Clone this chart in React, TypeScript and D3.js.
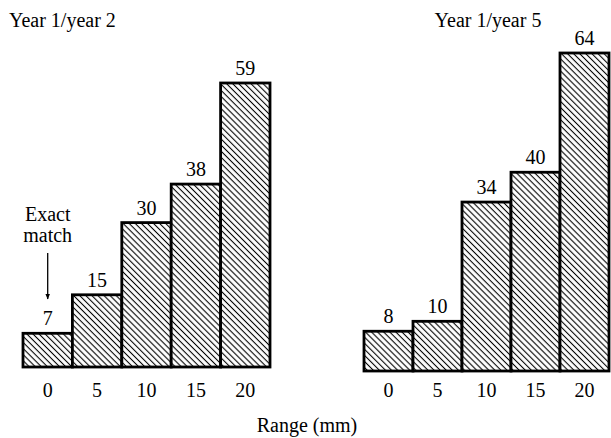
import * as d3 from 'd3';

// data
const ranges = ['0', '5', '10', '15', '20'];
const year2Counts = [7, 15, 30, 38, 59];
const year5Counts = [8, 10, 34, 40, 64];
const panelTitles = ['Year 1/year 2', 'Year 1/year 5'];
const xAxisTitle = 'Range (mm)';

const W = 611;
const H = 438;
const textStyle = { fontFamily: "'Liberation Serif', 'DejaVu Serif', serif", fontSize: '20px' };

interface PanelProps {
  counts: number[];
  title: string;
  x0: number;
  x1: number;
  base: number;
  top: number;
  titleX: number;
  titleAnchor: 'start' | 'middle';
  note?: boolean;
}

const Panel = ({ counts, title, x0, x1, base, top, titleX, titleAnchor, note }: PanelProps) => {
  const xScale = d3.scaleBand<string>().domain(ranges).range([x0, x1]).padding(0);
  const yScale = d3
    .scaleLinear()
    .domain([0, d3.max(counts) ?? 1])
    .range([base, top]);

  const bw = xScale.bandwidth();
  const firstX = xScale(ranges[0])! + bw / 2;

  return (
    <g>
      <text x={titleX} y={27} textAnchor={titleAnchor} style={textStyle}>
        {title}
      </text>

      {/* bars */}
      {counts.map((c, i) => (
        <rect
          key={ranges[i]}
          x={xScale(ranges[i])}
          y={yScale(c)}
          width={bw}
          height={base - yScale(c)}
          fill="url(#hatch)"
          stroke="#000"
          strokeWidth={2.8}
        />
      ))}

      {/* value labels */}
      {counts.map((c, i) => (
        <text
          key={'v' + ranges[i]}
          x={xScale(ranges[i])! + bw / 2}
          y={yScale(c) - 8}
          textAnchor="middle"
          style={textStyle}
        >
          {c}
        </text>
      ))}

      {/* tick labels */}
      {ranges.map((r) => (
        <text key={'t' + r} x={xScale(r)! + bw / 2} y={397} textAnchor="middle" style={textStyle}>
          {r}
        </text>
      ))}

      {note && (
        <g>
          <text x={firstX} y={221} textAnchor="middle" style={textStyle}>
            Exact
          </text>
          <text x={firstX} y={242} textAnchor="middle" style={textStyle}>
            match
          </text>
          <line
            x1={firstX}
            x2={firstX}
            y1={253}
            y2={299}
            stroke="#000"
            strokeWidth={1.3}
            markerEnd="url(#arrow)"
          />
        </g>
      )}
    </g>
  );
};

export default function App() {
  return (
    <svg
      width={W}
      height={H}
      style={{ position: 'absolute', left: 0, top: 0, background: '#fff' }}
    >
      <defs>
        <pattern
          id="hatch"
          patternUnits="userSpaceOnUse"
          width={4.3}
          height={4.3}
          patternTransform="rotate(45)"
        >
          <rect width={4.3} height={4.3} fill="#fff" />
          <line x1={0} y1={2.15} x2={4.3} y2={2.15} stroke="#000" strokeWidth={1.1} />
        </pattern>
        <marker
          id="arrow"
          viewBox="0 0 10 10"
          refX={9}
          refY={5}
          markerWidth={6}
          markerHeight={8}
          orient="auto"
          markerUnits="userSpaceOnUse"
        >
          <path d="M0,1 L10,5 L0,9 Z" fill="#000" />
        </marker>
      </defs>

      <Panel
        counts={year2Counts}
        title={panelTitles[0]}
        x0={23}
        x1={270}
        base={367}
        top={83}
        titleX={9}
        titleAnchor="start"
        note
      />
      <Panel
        counts={year5Counts}
        title={panelTitles[1]}
        x0={364}
        x1={609}
        base={371}
        top={53}
        titleX={488}
        titleAnchor="middle"
      />

      <text x={307} y={432} textAnchor="middle" style={textStyle}>
        {xAxisTitle}
      </text>
    </svg>
  );
}
